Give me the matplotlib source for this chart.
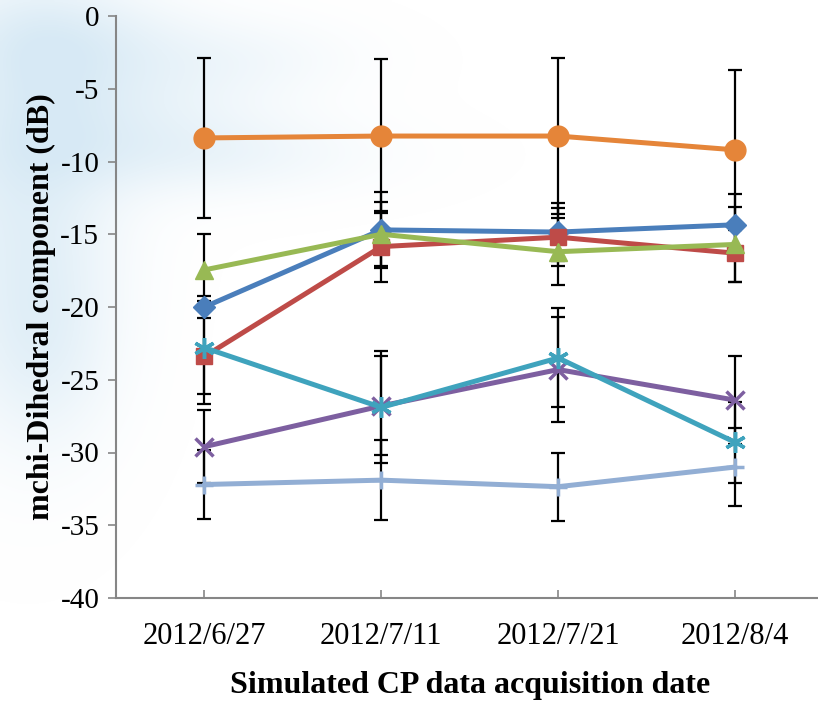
import matplotlib
matplotlib.use('Agg')
import matplotlib.pyplot as plt
import numpy as np

# acquisition dates (category axis)
dates = ['2012/6/27', '2012/7/11', '2012/7/21', '2012/8/4']

# mean dihedral component (dB) and error bars, one list per series
blue_vals = [-20.0, -14.7, -14.85, -14.35]
blue_errs = [0.75, 2.6, 2.0, 2.1]
red_vals = [-23.4, -15.85, -15.2, -16.3]
red_errs = [3.3, 2.45, 2.0, 2.0]
green_vals = [-17.45, -15.0, -16.2, -15.7]
green_errs = [2.5, 2.2, 2.3, 2.6]
purple_vals = [-29.6, -26.8, -24.3, -26.4]
purple_errs = [2.5, 3.4, 3.6, 3.0]
teal_vals = [-22.8, -26.9, -23.5, -29.3]
teal_errs = [3.2, 3.85, 3.4, 2.8]
orange_vals = [-8.38, -8.25, -8.25, -9.2]
orange_errs = [5.5, 5.3, 5.35, 5.5]
lightblue_vals = [-32.2, -31.9, -32.35, -31.0]
lightblue_errs = [2.4, 2.75, 2.35, 2.7]

series = [
    (blue_vals, blue_errs, '#4a7ebb', 'D', 11),
    (red_vals, red_errs, '#be4b48', 's', 12),
    (green_vals, green_errs, '#98b954', '^', 13),
    (purple_vals, purple_errs, '#7d5fa0', 'x', 13),
    (teal_vals, teal_errs, '#3fa3bd', (6, 2, 0), 15),
    (orange_vals, orange_errs, '#e58539', 'o', 15),
    (lightblue_vals, lightblue_errs, '#92aed4', '+', 13),
]

plt.rcParams['font.family'] = ['Liberation Serif', 'DejaVu Serif']
plt.rcParams['axes.unicode_minus'] = False

fig = plt.figure(figsize=(8.18, 7.01), dpi=100)

# faint, blurred watermark in the upper left (decoration only)
bg = fig.add_axes([0, 0, 1, 1], zorder=-1)
gx, gy = np.meshgrid(np.linspace(0, 1, 300), np.linspace(1, 0, 260))
blobs = [(0.03, 0.75, 0.08, 0.20, 0.40), (0.15, 0.85, 0.12, 0.07, 0.25),
         (0.25, 0.78, 0.14, 0.04, 0.20), (0.08, 0.95, 0.10, 0.05, 0.25),
         (0.30, 0.92, 0.10, 0.04, 0.12), (0.05, 0.50, 0.06, 0.10, 0.22)]
dens = np.zeros_like(gx)
for cx, cy, sx, sy, a in blobs:
    dens += a * np.exp(-((gx - cx) ** 2 / (2 * sx ** 2) + (gy - cy) ** 2 / (2 * sy ** 2)))
img = np.zeros(gx.shape + (4,))
img[..., 0] = 0.72
img[..., 1] = 0.85
img[..., 2] = 0.93
img[..., 3] = np.clip(dens, 0, 0.55)
bg.imshow(img, extent=[0, 1, 0, 1], aspect='auto', interpolation='bilinear')
bg.set_xlim(0, 1)
bg.set_ylim(0, 1)
bg.axis('off')

ax = fig.add_axes([116 / 818, 1 - 598 / 701, 707.5 / 818, 582 / 701])
ax.patch.set_alpha(0)

x = np.arange(len(dates))
for vals, errs, color, marker, ms in series:
    ax.errorbar(x, vals, yerr=errs, fmt='none', ecolor='black', elinewidth=1.6,
                capsize=5, capthick=1.6, zorder=2)
for vals, errs, color, marker, ms in series:
    ax.plot(x, vals, color=color, lw=3.6, marker=marker, markersize=ms,
            markeredgewidth=2.5 if marker in ('x', '+', (6, 2, 0)) else 1,
            markeredgecolor=color, solid_capstyle='round', zorder=3)

ax.set_xlim(-0.5, 3.5)
ax.set_ylim(-40, 0)
ax.set_yticks(np.arange(-40, 1, 5))
ax.set_xticks(x)
ax.set_xticklabels(dates)

for s in ['top', 'right']:
    ax.spines[s].set_visible(False)
for s in ['left', 'bottom']:
    ax.spines[s].set_color('#868686')
    ax.spines[s].set_linewidth(1.5)

ax.tick_params(axis='y', direction='out', length=6, width=1.2, color='#868686',
               labelsize=21, pad=6)
ax.tick_params(axis='x', direction='in', length=6, width=1.2, color='#868686',
               labelsize=22, pad=17)

ax.set_xlabel('Simulated CP data acquisition date', fontsize=23, fontweight='bold', labelpad=15)
ax.set_ylabel('mchi-Dihedral component (dB)', fontsize=23, fontweight='bold', labelpad=3)

fig.savefig('out.png', dpi=100)
